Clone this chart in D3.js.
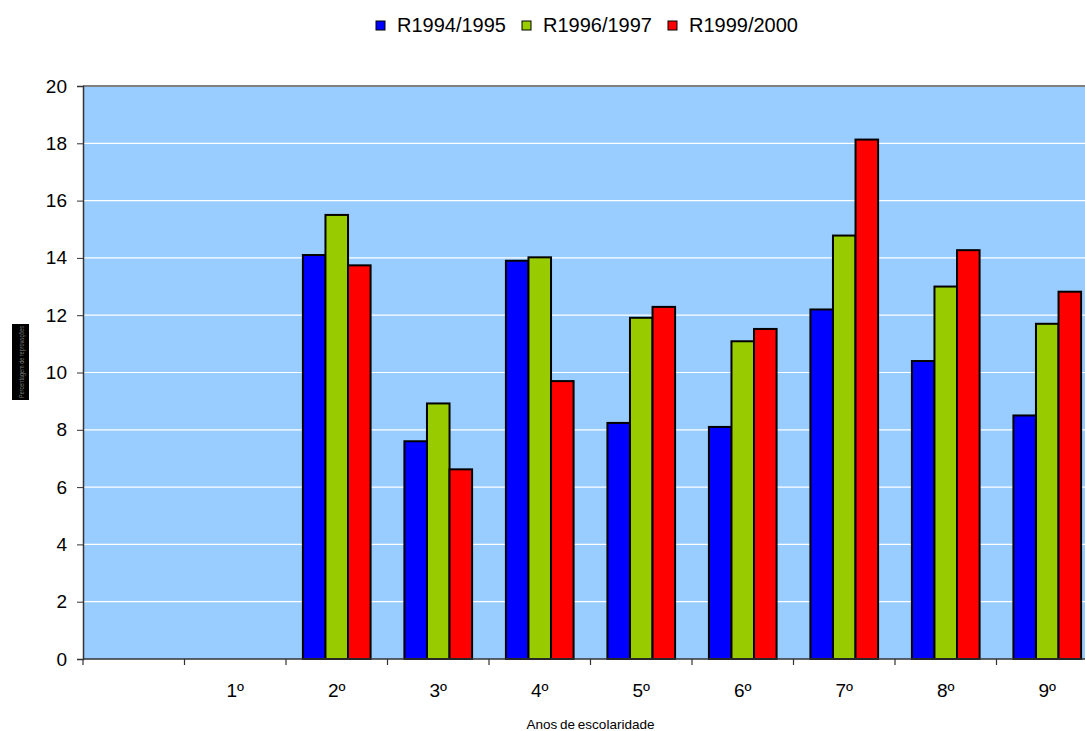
<!DOCTYPE html>
<html><head><meta charset="utf-8">
<script src="https://cdn.jsdelivr.net/npm/d3@7"></script>
<style>body{margin:0;background:#fff;}svg{display:block;font-family:"Liberation Sans",Arial,sans-serif;}</style>
</head><body>
<svg id="c" width="1085" height="731"></svg>
<script>
const categories = ["", "1º", "2º", "3º", "4º", "5º", "6º", "7º", "8º", "9º"];
const seriesNames = ["R1994/1995", "R1996/1997", "R1999/2000"];
const seriesColors = ["#0000FF", "#99CC00", "#FF0000"];
const r1994 = [null, null, 14.1, 7.6, 13.9, 8.24, 8.1, 12.2, 10.4, 8.5];
const r1996 = [null, null, 15.5, 8.92, 14.02, 11.91, 11.09, 14.78, 13.0, 11.7];
const r1999 = [null, null, 13.74, 6.62, 9.7, 12.29, 11.52, 18.13, 14.27, 12.82];
const yTicks = [0, 2, 4, 6, 8, 10, 12, 14, 16, 18, 20];
const xTitle = "Anos de escolaridade";
const yTitle = "Percentagem de reprovações";

const series = [r1994, r1996, r1999];
const svg = d3.select("#c");
const L = 83, R = 1098, T = 86, B = 659;

const x = d3.scaleBand().domain(categories.map((d,i)=>i)).range([L, R]).paddingInner(0).paddingOuter(0);
const x1 = d3.scaleBand().domain([0,1,2]).range([0, x.bandwidth()]).paddingOuter(0.75).paddingInner(0);
const y = d3.scaleLinear().domain([0, 20]).range([B, T]);

// plot background
svg.append("rect").attr("x", L).attr("y", T).attr("width", R - L).attr("height", B - T).attr("fill", "#99CCFF");
// gridlines
svg.append("g").selectAll("line").data(yTicks.filter(t => t > 0 && t < 20)).join("line")
  .attr("x1", L).attr("x2", R).attr("y1", d => y(d)).attr("y2", d => y(d))
  .attr("stroke", "#ffffff").attr("stroke-width", 1.2);
// top border
svg.append("line").attr("x1", L).attr("x2", R).attr("y1", T).attr("y2", T).attr("stroke", "#808080").attr("stroke-width", 2);

// bars
const bars = [];
series.forEach((s, si) => s.forEach((v, ci) => { if (v != null) bars.push({si, ci, v}); }));
svg.append("g").selectAll("rect").data(bars).join("rect")
  .attr("x", d => x(d.ci) + x1(d.si))
  .attr("y", d => y(d.v))
  .attr("width", x1.bandwidth())
  .attr("height", d => B - y(d.v))
  .attr("fill", d => seriesColors[d.si])
  .attr("stroke", "#000").attr("stroke-width", 2);

// y axis
const yAxis = d3.axisLeft(y).tickValues(yTicks).tickSize(6).tickPadding(10).tickFormat(d3.format("d"));
const gy = svg.append("g").attr("transform", `translate(${L},0)`).call(yAxis);
gy.select(".domain").attr("stroke", "#333").attr("stroke-width", 1.5);
gy.selectAll(".tick line").attr("stroke", "#333");
gy.selectAll("text").attr("font-size", 19).attr("fill", "#000").attr("font-family", "Liberation Sans, Arial, sans-serif");

// x axis
const boundaries = d3.range(categories.length).map(i => x(i));
const gx = svg.append("g");
gx.append("line").attr("x1", L).attr("x2", R).attr("y1", B).attr("y2", B).attr("stroke", "#333").attr("stroke-width", 1.5);
gx.selectAll(".tk").data(boundaries).join("line").attr("class", "tk")
  .attr("x1", d => d).attr("x2", d => d).attr("y1", B).attr("y2", B + 6).attr("stroke", "#333").attr("stroke-width", 1.2);
gx.selectAll(".lbl").data(categories).join("text").attr("class", "lbl")
  .attr("x", (d, i) => x(i) + x.bandwidth() / 2).attr("y", 697)
  .attr("text-anchor", "middle").attr("font-size", 19).attr("fill", "#000").text(d => d);

// x title
svg.append("text").attr("x", (L + R) / 2).attr("y", 729).attr("text-anchor", "middle")
  .attr("font-size", 13.5).attr("word-spacing", -1).attr("fill", "#000").text(xTitle);

// y title (tiny, on black box)
svg.append("rect").attr("x", 12).attr("y", 324).attr("width", 17).attr("height", 76).attr("fill", "#000");
svg.append("text").attr("transform", "translate(24,398) rotate(-90)")
  .attr("font-size", 7).attr("fill", "#777").attr("textLength", 72).attr("lengthAdjust", "spacingAndGlyphs").text(yTitle);

// legend
const legX = [376, 522, 668];
const lg = svg.append("g");
seriesNames.forEach((n, i) => {
  lg.append("rect").attr("x", legX[i]).attr("y", 21).attr("width", 9).attr("height", 9)
    .attr("fill", seriesColors[i]).attr("stroke", "#000").attr("stroke-width", 1);
  lg.append("text").attr("x", legX[i] + 21).attr("y", 32).attr("font-size", 20).attr("fill", "#000").text(n);
});
</script>
</body></html>
